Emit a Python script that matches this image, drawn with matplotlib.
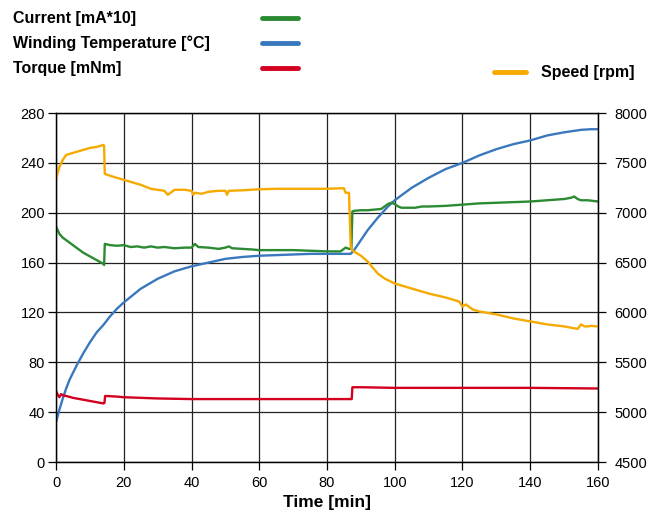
import numpy as np
import matplotlib.pyplot as plt

plt.rcParams['font.family'] = ['Liberation Sans', 'DejaVu Sans']

# ---------------- data ----------------
t_cur = [0, 0.5, 1, 2, 3, 4, 6, 8, 10, 12, 14, 14.2, 14.4, 16, 18, 20, 22, 24, 26, 28, 30,
         32, 35, 38, 40, 41, 42, 45, 48, 50, 51, 52, 55, 58, 60, 65, 70, 75, 80, 84, 85.5,
         86.5, 87.2, 87.5, 88, 90, 92, 94, 96, 97, 98, 99, 100, 101, 102, 104, 106, 108,
         110, 115, 120, 125, 130, 135, 140, 145, 150, 152, 153, 154, 155, 157, 160]
current = [189, 186, 183, 180, 178, 176, 172, 168, 165, 162, 159, 158, 175, 174, 173.5,
           174, 172.5, 173, 172, 173, 172, 172.5, 171.5, 172, 172, 175, 172.5, 172, 171,
           172, 173, 171.5, 171, 170.5, 170, 170, 170, 169.5, 169, 169, 172, 171, 171, 201,
           201.5, 202, 202, 202.5, 203, 205, 207, 208, 207, 205, 204, 204, 204, 205, 205,
           205.5, 206.5, 207.5, 208, 208.5, 209, 210, 211, 212, 213, 211, 210, 210, 209]

t_temp = [0, 1, 2, 3, 4, 6, 8, 10, 12, 14, 16, 18, 20, 25, 30, 35, 40, 45, 50, 55, 60, 65,
          70, 75, 80, 85, 87, 88, 90, 92, 95, 98, 100, 105, 110, 115, 120, 125, 130, 135,
          140, 145, 150, 155, 158, 160]
temp = [32, 42, 51, 59, 66, 77, 87, 96, 104, 110, 117, 123, 128, 139, 147, 153, 157, 160,
        163, 164.5, 165.5, 166, 166.5, 167, 167, 167, 167, 170, 178, 186, 196, 205, 210, 220,
        228, 235, 240, 246, 251, 255, 258, 262, 264.5, 266.5, 267, 267]

t_torq = [0, 0.5, 1, 1.5, 2, 3, 5, 8, 11, 14, 14.3, 14.5, 18, 20, 25, 30, 40, 50, 60, 70,
          80, 87, 87.3, 87.5, 90, 100, 120, 140, 160]
torque = [57, 54, 52, 54.5, 53.5, 53, 51.5, 50, 48.5, 47, 47.5, 53, 52.5, 52, 51.5, 51,
          50.5, 50.5, 50.5, 50.5, 50.5, 50.5, 50.5, 60, 60, 59.5, 59.5, 59.5, 59]

t_spd = [0, 0.5, 1, 2, 3, 4, 6, 8, 10, 12, 14, 14.2, 14.4, 16, 18, 20, 22, 25, 28, 30,
         32, 33, 35, 38, 40, 40.5, 41, 43, 45, 48, 50, 50.5, 51, 55, 60, 65, 70, 75, 80,
         84, 85, 85.5, 86.5, 87, 87.3, 88, 90, 92, 93, 95, 97, 100, 105, 110, 115, 117,
         119, 120, 121, 123, 125, 130, 135, 140, 145, 150, 154, 155, 156, 157, 158, 160]
speed = [7330, 7400, 7460, 7530, 7580, 7590, 7610, 7630, 7650, 7660, 7680, 7670, 7390,
         7370, 7350, 7330, 7310, 7280, 7240, 7230, 7220, 7180, 7230, 7230, 7220, 7180,
         7200, 7190, 7210, 7220, 7220, 7180, 7220, 7225, 7235, 7240, 7240, 7240, 7240,
         7245, 7245, 7200, 7200, 6660, 6630, 6610, 6570, 6510, 6470, 6390, 6340, 6290,
         6240, 6190, 6150, 6130, 6110, 6060, 6080, 6030, 6010, 5980, 5940, 5910, 5880,
         5860, 5835, 5880, 5860, 5860, 5865, 5860]

c_cur = '#2b8a32'
c_temp = '#3a78bd'
c_torq = '#d3001f'
c_spd = '#f6aa00'

# ---------------- figure ----------------
fig = plt.figure(figsize=(6.7, 5.22), dpi=100)
ax = fig.add_axes([0.0836, 0.1149, 0.8089, 0.6686])
ax2 = ax.twinx()

ax.plot(t_temp, temp, color=c_temp, lw=1.7)
ax.plot(t_torq, torque, color=c_torq, lw=1.7)
ax.plot(t_cur, current, color=c_cur, lw=1.7)
ax2.plot(t_spd, speed, color=c_spd, lw=1.7)

ax.set_xlim(0, 160)
ax.set_ylim(0, 280)
ax.set_xticks(np.arange(0, 161, 20))
ax.set_yticks(np.arange(0, 281, 40))
ax2.set_ylim(4500, 8000)
ax2.set_yticks(np.arange(4500, 8001, 500))

ax.grid(True, color='#222222', lw=0.9)
for a in (ax, ax2):
    a.tick_params(labelsize=10.5, length=6, width=0.9, color='black', pad=4)
    for s in a.spines.values():
        s.set_linewidth(0.9)
        s.set_color('black')
ax.tick_params(axis='y', pad=2)
ax2.tick_params(axis='y', pad=6)

ax.set_xlabel('Time [min]', fontsize=12.5, fontweight='bold', labelpad=4)

# legend drawn by hand like the original
labels = [('Current [mA*10]', c_cur), ('Winding Temperature [°C]', c_temp),
          ('Torque [mNm]', c_torq)]
for i, (txt, col) in enumerate(labels):
    y = 1 - (18 + 25 * i) / 522
    fig.text(13 / 670, y, txt, fontsize=11.5, fontweight='bold', va='center', ha='left')
    fig.add_artist(plt.Line2D([262 / 670, 298 / 670], [y, y], color=col, lw=3.5,
                              solid_capstyle='round'))
y = 1 - 72 / 522
fig.text(541 / 670, y, 'Speed [rpm]', fontsize=11.5, fontweight='bold', va='center', ha='left')
fig.add_artist(plt.Line2D([494 / 670, 526 / 670], [y, y], color=c_spd, lw=3.5,
                          solid_capstyle='round'))

fig.savefig('out.png', dpi=100)
